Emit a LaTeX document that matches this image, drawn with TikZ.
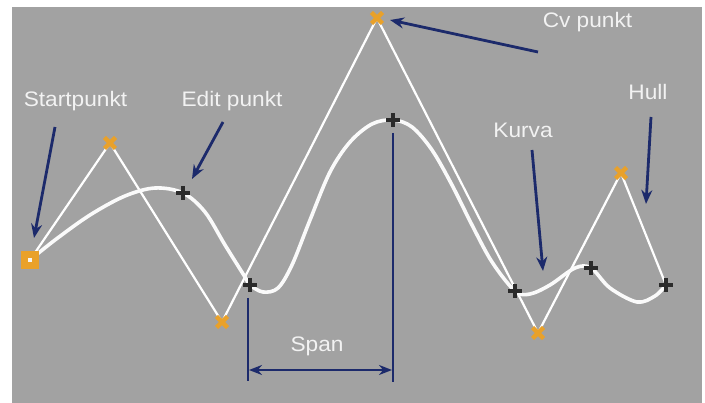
\documentclass[tikz,border=0pt]{standalone}
\usepackage{fontspec}
\setmainfont{Liberation Sans}[FakeStretch=1.08]
\usetikzlibrary{arrows.meta}
\definecolor{bggray}{HTML}{A2A2A2}
\definecolor{navy}{HTML}{1C2A6B}
\definecolor{cvorange}{HTML}{E9A12A}
\definecolor{plusdark}{HTML}{2B2B2B}
\definecolor{labelwhite}{HTML}{F2F2F2}
\begin{document}
\begin{tikzpicture}[x=1pt,y=-1pt,
  lbl/.style={text=labelwhite, font=\fontsize{21}{21}\selectfont, anchor=base, inner sep=0pt},
  pointer/.style={draw=navy, line width=2.8pt, -{Stealth[length=14pt,width=11pt]}},
  spanline/.style={draw=navy, line width=2.8pt},
  hull/.style={draw=white, line width=2.2pt, line join=round},
  curve/.style={draw=white!96!gray, line width=3.6pt, line cap=round},
  cvx/.pic={\draw[cvorange, line width=4.5pt] (-5.5,-5.5) -- (5.5,5.5) (-5.5,5.5) -- (5.5,-5.5);},
  editplus/.pic={\draw[plusdark, line width=3.4pt] (-7,0) -- (7,0) (0,-7) -- (0,7);},
  startmark/.style={rectangle, draw=cvorange, fill=white!92!gray, line width=6.5pt, minimum size=11pt, inner sep=0pt}]
\useasboundingbox (0,0) rectangle (705,403);
\fill[white] (0,0) rectangle (705,403);
\fill[bggray] (12,7) rectangle (702,403);
% control points
\coordinate (S) at (30,260);
\coordinate (C1) at (110,143);
\coordinate (C2) at (222,322);
\coordinate (C3) at (377,18);
\coordinate (C4) at (538,333);
\coordinate (C5) at (621,173);
% edit points
\coordinate (E1) at (183,193);
\coordinate (E2) at (250,285);
\coordinate (E3) at (393,120);
\coordinate (E4) at (515,291);
\coordinate (E5) at (591,268);
\coordinate (E6) at (666,285);
% hull
\draw[hull] (S) -- (C1) -- (C2) -- (C3) -- (C4) -- (C5) -- (E6);
% curve
\draw[curve] plot[smooth, tension=0.55] coordinates {(S) (55,240) (90,215) (125,196) (155,188) (E1) (205,212) (225,245) (245,277) (E2) (263,292) (278,288) (292,265) (310,220) (330,172) (350,142) (372,124) (E3) (412,127) (432,150) (452,185) (472,225) (492,262) (E4) (530,294) (550,285) (575,268) (E5) (610,288) (637,302) (655,296) (E6)};
% markers
\node[startmark] (ms) at (S) {};
\pic (m1) at (C1) {cvx};
\pic (m2) at (C2) {cvx};
\pic (m3) at (C3) {cvx};
\pic (m4) at (C4) {cvx};
\pic (m5) at (C5) {cvx};
\pic (p1) at (E1) {editplus};
\pic (p2) at (E2) {editplus};
\pic (p3) at (E3) {editplus};
\pic (p4) at (E4) {editplus};
\pic (p5) at (E5) {editplus};
\pic (p6) at (E6) {editplus};
% labels
\node[lbl] (lstart) at (75.5,107) {Startpunkt};
\node[lbl] (ledit) at (232,107) {Edit punkt};
\node[lbl] (lcv) at (587.5,28) {Cv punkt};
\node[lbl] (lkurva) at (523,138) {Kurva};
\node[lbl] (lhull) at (648,100) {Hull};
\node[lbl] (lspan) at (317,352) {Span};
% pointer arrows
\coordinate (a1t) at (55,127);  \coordinate (a1h) at (34,238);
\coordinate (a2t) at (223,122); \coordinate (a2h) at (192,179);
\coordinate (a3t) at (538,52);  \coordinate (a3h) at (390,20);
\coordinate (a4t) at (532,150); \coordinate (a4h) at (543,271);
\coordinate (a5t) at (651,117); \coordinate (a5h) at (646,204);
\draw[pointer] (a1t) -- (a1h);
\draw[pointer] (a2t) -- (a2h);
\draw[pointer] (a3t) -- (a3h);
\draw[pointer] (a4t) -- (a4h);
\draw[pointer] (a5t) -- (a5h);
% span
\coordinate (sl1) at (248,298); \coordinate (sl2) at (248,381);
\coordinate (sr1) at (393,133); \coordinate (sr2) at (393,382);
\coordinate (sa1) at (249,370); \coordinate (sa2) at (392,370);
\draw[spanline] (sl1) -- (sl2);
\draw[spanline] (sr1) -- (sr2);
\draw[spanline, {Stealth[length=13pt,width=10pt]}-{Stealth[length=13pt,width=10pt]}] (sa1) -- (sa2);
\end{tikzpicture}
\end{document}
